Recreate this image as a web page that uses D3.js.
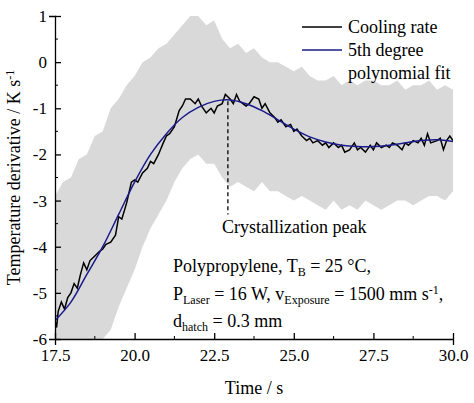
<!DOCTYPE html>
<html><head><meta charset="utf-8">
<script src="https://cdn.jsdelivr.net/npm/d3@7"></script>
<style>body{margin:0;background:#fff} svg, svg text{font-family:"Liberation Serif","Times New Roman","DejaVu Serif",serif !important}</style>
</head><body><svg width="474" height="403"></svg>
<script>
// grey raw signal envelope
const bandT = [17.5,17.75,18,18.25,18.5,18.75,19,19.25,19.5,19.75,20,20.25,20.5,20.75,21,21.25,21.5,21.75,22,22.25,22.5,22.75,23,23.25,23.5,23.75,24,24.25,24.5,24.75,25,25.25,25.5,25.75,26,26.25,26.5,26.75,27,27.25,27.5,27.75,28,28.25,28.5,28.75,29,29.25,29.5,29.75,30];
const bandHi = [-2.9,-2.6,-2.5,-2.1,-2.0,-1.6,-1.5,-1.0,-0.8,-0.5,-0.3,0.0,0.1,0.3,0.4,0.6,0.8,1.0,1.0,0.8,0.9,0.5,0.3,0.4,0.2,0.3,0.1,0.0,0.0,-0.1,-0.2,-0.1,-0.3,-0.4,-0.4,-0.3,-0.5,-0.4,-0.5,-0.4,-0.4,-0.5,-0.5,-0.4,-0.6,-0.5,-0.5,-0.4,-0.6,-0.5,-0.6];
const bandLo = [-6,-6,-6,-6,-6,-6,-6,-5.8,-5.3,-4.9,-4.5,-4.0,-3.6,-3.3,-3.0,-2.6,-2.3,-2.1,-2.0,-2.2,-2.2,-2.5,-2.7,-2.6,-2.7,-2.8,-2.6,-2.8,-2.8,-2.9,-3.0,-2.9,-3.0,-3.1,-3.2,-3.0,-3.2,-3.1,-3.2,-3.0,-3.1,-3.2,-3.1,-3.0,-3.0,-3.1,-3.0,-2.9,-2.9,-3.0,-2.8];
// cooling rate (black)
const rateT = [17.5,17.55,17.6,17.7,17.8,17.9,18,18.1,18.2,18.3,18.4,18.5,18.6,18.75,18.9,19,19.1,19.25,19.4,19.5,19.6,19.75,19.9,20,20.1,20.25,20.4,20.5,20.6,20.75,20.9,21,21.1,21.25,21.4,21.5,21.6,21.75,21.9,22,22.1,22.25,22.4,22.5,22.6,22.75,22.85,23,23.1,23.2,23.3,23.5,23.6,23.75,23.9,24,24.1,24.25,24.4,24.5,24.6,24.75,24.9,25,25.1,25.25,25.4,25.5,25.6,25.75,25.9,26,26.1,26.25,26.4,26.5,26.6,26.75,26.9,27,27.1,27.25,27.4,27.5,27.6,27.75,27.9,28,28.1,28.25,28.4,28.5,28.6,28.75,28.9,29,29.1,29.2,29.3,29.5,29.6,29.7,29.8,29.9,30];
const rateV = [-5.6,-5.75,-5.4,-5.2,-5.35,-5.1,-5.0,-4.8,-4.9,-4.6,-4.35,-4.5,-4.3,-4.2,-4.1,-4.05,-3.95,-3.9,-3.75,-3.35,-3.4,-3.05,-2.6,-2.55,-2.6,-2.4,-2.3,-2.15,-2.2,-2.0,-1.75,-1.6,-1.55,-1.4,-1.05,-0.95,-0.8,-0.8,-0.9,-0.8,-0.95,-1.1,-1.0,-1.1,-0.95,-0.9,-0.7,-0.8,-0.9,-0.7,-0.85,-0.95,-0.9,-0.75,-0.8,-1.0,-0.9,-1.1,-1.2,-1.3,-1.25,-1.4,-1.35,-1.5,-1.45,-1.6,-1.7,-1.65,-1.75,-1.7,-1.8,-1.75,-1.85,-1.75,-1.85,-1.8,-1.95,-1.9,-1.75,-1.9,-1.85,-1.95,-1.8,-1.9,-1.75,-1.85,-1.8,-1.85,-1.75,-1.8,-1.9,-1.75,-1.8,-1.7,-1.75,-1.65,-1.8,-1.55,-1.75,-1.7,-1.65,-1.9,-1.7,-1.6,-1.7];
// 5th degree polynomial fit (blue)
const fitT = [17.5,18,18.5,19,19.5,20,20.5,21,21.5,22,22.5,23,23.5,24,24.5,25,25.5,26,26.5,27,27.5,28,28.5,29,29.5,30];
const fitV = [-5.6,-5.2,-4.6,-4.0,-3.3,-2.6,-2.0,-1.55,-1.2,-0.98,-0.85,-0.82,-0.9,-1.05,-1.25,-1.45,-1.62,-1.73,-1.8,-1.83,-1.83,-1.8,-1.75,-1.7,-1.68,-1.72];
const xTicks = [17.5,20,22.5,25,27.5,30];
const yTicks = [1,0,-1,-2,-3,-4,-5,-6];
const peakT = 22.93, peakTop = -0.85, peakBottom = -3.3;

const svg = d3.select("svg");
const m = {l:55, r:453, t:16, b:339};
const x = d3.scaleLinear().domain([17.5,30]).range([m.l,m.r]);
const y = d3.scaleLinear().domain([-6,1]).range([m.b,m.t]);

svg.append("clipPath").attr("id","c").append("rect")
  .attr("x",m.l).attr("y",m.t).attr("width",m.r-m.l).attr("height",m.b-m.t);
const g = svg.append("g").attr("clip-path","url(#c)");

g.append("path").datum(bandT)
  .attr("d", d3.area().x(d=>x(d)).y0((d,i)=>y(bandLo[i])).y1((d,i)=>y(bandHi[i])))
  .attr("fill","#d9d9d9");

svg.append("line").attr("x1",x(peakT)).attr("x2",x(peakT))
  .attr("y1",y(peakTop)).attr("y2",y(peakBottom))
  .attr("stroke","#000").attr("stroke-width",1.3).attr("stroke-dasharray","4,3");

g.append("path").datum(rateT)
  .attr("d", d3.line().x(d=>x(d)).y((d,i)=>y(rateV[i])))
  .attr("fill","none").attr("stroke","#000").attr("stroke-width",1.5);
g.append("path").datum(fitT)
  .attr("d", d3.line().x(d=>x(d)).y((d,i)=>y(fitV[i])).curve(d3.curveCatmullRom))
  .attr("fill","none").attr("stroke","#1a1a8c").attr("stroke-width",1.5);

// axes (ticks inward)
const xa = svg.append("g").attr("transform",`translate(0,${m.b})`)
  .call(d3.axisBottom(x).tickValues(xTicks).tickFormat(d3.format(".1f")).tickSizeInner(-6).tickPadding(10));
const ya = svg.append("g").attr("transform",`translate(${m.l},0)`)
  .call(d3.axisLeft(y).tickValues(yTicks).tickFormat(d=>d).tickSizeInner(-6).tickPadding(6));
[xa,ya].forEach(a=>{a.attr("font-family",null);a.selectAll("text").attr("font-size",17).attr("fill","#000");
  a.select(".domain").attr("stroke-width",1.3); a.selectAll(".tick line").attr("stroke-width",1.3);});
ya.selectAll(".tick text").attr("dx",-2);
// minor ticks
svg.append("g").selectAll("line").data(d3.range(18.75,30,2.5)).join("line")
  .attr("x1",d=>x(d)).attr("x2",d=>x(d)).attr("y1",m.b).attr("y2",m.b-3).attr("stroke","#000");
svg.append("g").selectAll("line").data(d3.range(-5.5,1,1)).join("line")
  .attr("x1",m.l).attr("x2",m.l+3).attr("y1",d=>y(d)).attr("y2",d=>y(d)).attr("stroke","#000");

svg.append("text").attr("x",(m.l+m.r)/2).attr("y",394).attr("text-anchor","middle")
  .attr("font-size",18).text("Time / s");
const yl = svg.append("text").attr("transform",`translate(20,${(m.t+m.b)/2}) rotate(-90)`)
  .attr("text-anchor","middle").attr("font-size",18);
yl.append("tspan").text("Temperature derivative / K s");
yl.append("tspan").attr("dy",-6).attr("font-size",12).text("-1");

// legend
const lg = svg.append("g");
lg.append("line").attr("x1",302).attr("x2",342).attr("y1",27).attr("y2",27).attr("stroke","#000").attr("stroke-width",1.5);
lg.append("text").attr("x",348).attr("y",33).attr("font-size",18).text("Cooling rate");
lg.append("line").attr("x1",302).attr("x2",342).attr("y1",50).attr("y2",50).attr("stroke","#1a1a8c").attr("stroke-width",1.5);
lg.append("text").attr("x",348).attr("y",56).attr("font-size",18).text("5th degree");
lg.append("text").attr("x",348).attr("y",79).attr("font-size",18).text("polynomial fit");

svg.append("text").attr("x",222).attr("y",233).attr("font-size",18).text("Crystallization peak");

function sub(t, parts){parts.forEach(p=>{const s=t.append("tspan").text(p[0]);
  if(p[1]){s.attr("font-size",12).attr("dy",4);} else if(p[2]){s.attr("font-size",12).attr("dy",-6);}
  else s.attr("dy",p[3]||0);});}
const a1=svg.append("text").attr("x",173).attr("y",272).attr("font-size",18);
sub(a1,[["Polypropylene, T"],["B",1],[" = 25 °C,",0,0,-4]]);
const a2=svg.append("text").attr("x",173).attr("y",300).attr("font-size",18);
sub(a2,[["P"],["Laser",1],[" = 16 W, v",0,0,-4],["Exposure",1],[" = 1500 mm s",0,0,-4],["-1",0,1],[",",0,0,6]]);
const a3=svg.append("text").attr("x",173).attr("y",327).attr("font-size",18);
sub(a3,[["d"],["hatch",1],[" = 0.3 mm",0,0,-4]]);
</script></body></html>
